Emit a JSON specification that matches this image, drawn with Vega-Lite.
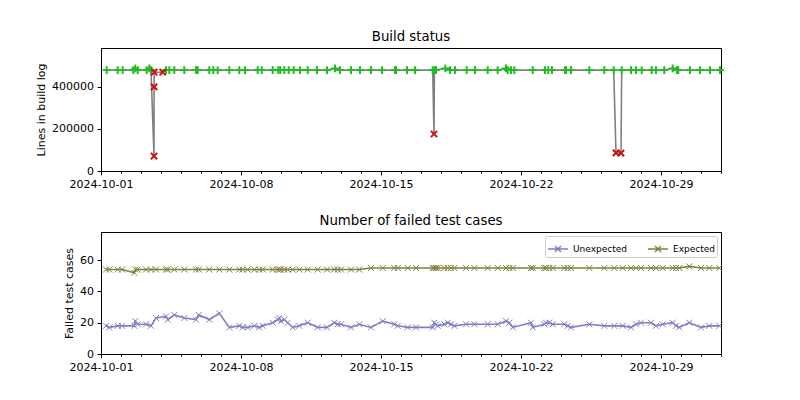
{
  "$schema": "https://vega.github.io/schema/vega-lite/v6.json",
  "background": "white",
  "padding": {"left": 35, "top": 29, "right": 20, "bottom": 5},
  "spacing": 23,
  "resolve": {"legend": {"color": "independent"}, "scale": {"color": "independent"}},
  "config": {
    "font": "DejaVu Sans",
    "view": {"stroke": "black", "strokeWidth": 1},
    "axis": {"grid": false, "domainColor": "black", "tickColor": "black", "labelColor": "black", "titleColor": "black", "labelFontSize": 11, "titleFontSize": 11, "titleFontWeight": "normal", "labelFont": "DejaVu Sans", "titleFont": "DejaVu Sans", "tickSize": 3.9, "labelPadding": 3.5},
    "title": {"fontSize": 13.3, "fontWeight": "normal", "font": "DejaVu Sans", "offset": 5, "color": "black"}
  },
  "datasets": {
    "builds": [
      {"time": "2024-10-01T06:50", "lines": 480000, "status": "ok"},
      {"time": "2024-10-01T20:02", "lines": 480000, "status": "ok"},
      {"time": "2024-10-02T02:02", "lines": 480000, "status": "ok"},
      {"time": "2024-10-02T14:46", "lines": 480000, "status": "ok"},
      {"time": "2024-10-02T17:10", "lines": 488000, "status": "ok"},
      {"time": "2024-10-02T20:02", "lines": 480000, "status": "ok"},
      {"time": "2024-10-03T06:50", "lines": 480000, "status": "ok"},
      {"time": "2024-10-03T09:58", "lines": 488000, "status": "ok"},
      {"time": "2024-10-03T12:00", "lines": 480000, "status": "ok"},
      {"time": "2024-10-03T15:36", "lines": 71000, "status": "failed"},
      {"time": "2024-10-03T15:43", "lines": 400000, "status": "failed"},
      {"time": "2024-10-03T15:50", "lines": 470000, "status": "failed"},
      {"time": "2024-10-04T02:02", "lines": 470000, "status": "failed"},
      {"time": "2024-10-04T06:00", "lines": 480000, "status": "ok"},
      {"time": "2024-10-04T09:58", "lines": 480000, "status": "ok"},
      {"time": "2024-10-04T15:58", "lines": 480000, "status": "ok"},
      {"time": "2024-10-05T03:58", "lines": 480000, "status": "ok"},
      {"time": "2024-10-05T18:00", "lines": 480000, "status": "ok"},
      {"time": "2024-10-05T20:02", "lines": 480000, "status": "ok"},
      {"time": "2024-10-06T09:58", "lines": 480000, "status": "ok"},
      {"time": "2024-10-06T14:46", "lines": 480000, "status": "ok"},
      {"time": "2024-10-06T20:02", "lines": 480000, "status": "ok"},
      {"time": "2024-10-07T09:58", "lines": 480000, "status": "ok"},
      {"time": "2024-10-07T21:58", "lines": 480000, "status": "ok"},
      {"time": "2024-10-08T04:48", "lines": 480000, "status": "ok"},
      {"time": "2024-10-08T20:02", "lines": 480000, "status": "ok"},
      {"time": "2024-10-09T00:50", "lines": 480000, "status": "ok"},
      {"time": "2024-10-09T14:02", "lines": 480000, "status": "ok"},
      {"time": "2024-10-09T20:46", "lines": 480000, "status": "ok"},
      {"time": "2024-10-09T23:10", "lines": 480000, "status": "ok"},
      {"time": "2024-10-10T03:58", "lines": 480000, "status": "ok"},
      {"time": "2024-10-10T09:14", "lines": 480000, "status": "ok"},
      {"time": "2024-10-10T15:14", "lines": 480000, "status": "ok"},
      {"time": "2024-10-10T22:48", "lines": 480000, "status": "ok"},
      {"time": "2024-10-11T08:02", "lines": 480000, "status": "ok"},
      {"time": "2024-10-11T19:12", "lines": 480000, "status": "ok"},
      {"time": "2024-10-12T07:12", "lines": 480000, "status": "ok"},
      {"time": "2024-10-12T16:48", "lines": 488000, "status": "ok"},
      {"time": "2024-10-12T22:48", "lines": 480000, "status": "ok"},
      {"time": "2024-10-13T12:00", "lines": 480000, "status": "ok"},
      {"time": "2024-10-13T22:48", "lines": 480000, "status": "ok"},
      {"time": "2024-10-14T12:00", "lines": 480000, "status": "ok"},
      {"time": "2024-10-15T01:12", "lines": 480000, "status": "ok"},
      {"time": "2024-10-15T16:48", "lines": 480000, "status": "ok"},
      {"time": "2024-10-15T18:00", "lines": 480000, "status": "ok"},
      {"time": "2024-10-16T07:12", "lines": 480000, "status": "ok"},
      {"time": "2024-10-16T16:48", "lines": 480000, "status": "ok"},
      {"time": "2024-10-17T14:02", "lines": 480000, "status": "ok"},
      {"time": "2024-10-17T15:36", "lines": 176000, "status": "failed"},
      {"time": "2024-10-17T16:05", "lines": 480000, "status": "ok"},
      {"time": "2024-10-17T18:00", "lines": 480000, "status": "ok"},
      {"time": "2024-10-18T05:10", "lines": 488000, "status": "ok"},
      {"time": "2024-10-18T10:48", "lines": 480000, "status": "ok"},
      {"time": "2024-10-18T16:48", "lines": 480000, "status": "ok"},
      {"time": "2024-10-19T06:50", "lines": 480000, "status": "ok"},
      {"time": "2024-10-19T16:48", "lines": 480000, "status": "ok"},
      {"time": "2024-10-20T08:02", "lines": 480000, "status": "ok"},
      {"time": "2024-10-20T20:02", "lines": 480000, "status": "ok"},
      {"time": "2024-10-21T06:00", "lines": 488000, "status": "ok"},
      {"time": "2024-10-21T08:02", "lines": 480000, "status": "ok"},
      {"time": "2024-10-21T12:00", "lines": 480000, "status": "ok"},
      {"time": "2024-10-21T15:58", "lines": 480000, "status": "ok"},
      {"time": "2024-10-22T14:02", "lines": 480000, "status": "ok"},
      {"time": "2024-10-23T04:48", "lines": 480000, "status": "ok"},
      {"time": "2024-10-23T08:46", "lines": 480000, "status": "ok"},
      {"time": "2024-10-23T13:12", "lines": 480000, "status": "ok"},
      {"time": "2024-10-24T04:48", "lines": 480000, "status": "ok"},
      {"time": "2024-10-24T06:00", "lines": 480000, "status": "ok"},
      {"time": "2024-10-24T12:00", "lines": 480000, "status": "ok"},
      {"time": "2024-10-25T09:58", "lines": 480000, "status": "ok"},
      {"time": "2024-10-26T03:58", "lines": 480000, "status": "ok"},
      {"time": "2024-10-26T15:14", "lines": 480000, "status": "ok"},
      {"time": "2024-10-26T18:00", "lines": 86000, "status": "failed"},
      {"time": "2024-10-27T00:00", "lines": 85000, "status": "failed"},
      {"time": "2024-10-27T00:50", "lines": 480000, "status": "ok"},
      {"time": "2024-10-27T12:00", "lines": 480000, "status": "ok"},
      {"time": "2024-10-27T18:00", "lines": 480000, "status": "ok"},
      {"time": "2024-10-28T00:50", "lines": 480000, "status": "ok"},
      {"time": "2024-10-28T12:50", "lines": 480000, "status": "ok"},
      {"time": "2024-10-28T18:00", "lines": 480000, "status": "ok"},
      {"time": "2024-10-29T03:58", "lines": 480000, "status": "ok"},
      {"time": "2024-10-29T14:02", "lines": 488000, "status": "ok"},
      {"time": "2024-10-29T19:12", "lines": 480000, "status": "ok"},
      {"time": "2024-10-29T20:46", "lines": 480000, "status": "ok"},
      {"time": "2024-10-30T10:48", "lines": 480000, "status": "ok"},
      {"time": "2024-10-30T22:48", "lines": 480000, "status": "ok"},
      {"time": "2024-10-31T10:48", "lines": 480000, "status": "ok"},
      {"time": "2024-10-31T22:48", "lines": 480000, "status": "ok"}
    ],
    "tests": [
      {"time": "2024-10-01T06:00", "Unexpected": 18, "Expected": 54},
      {"time": "2024-10-01T09:58", "Unexpected": 17, "Expected": 54},
      {"time": "2024-10-01T20:02", "Unexpected": 18, "Expected": 54},
      {"time": "2024-10-02T01:12", "Unexpected": 18, "Expected": 54},
      {"time": "2024-10-02T15:58", "Unexpected": 18, "Expected": 52},
      {"time": "2024-10-02T17:10", "Unexpected": 21, "Expected": 54},
      {"time": "2024-10-02T20:02", "Unexpected": 19, "Expected": 54},
      {"time": "2024-10-03T06:00", "Unexpected": 19, "Expected": 54},
      {"time": "2024-10-03T12:00", "Unexpected": 18, "Expected": 54},
      {"time": "2024-10-03T18:00", "Unexpected": 23, "Expected": 54},
      {"time": "2024-10-04T06:00", "Unexpected": 24, "Expected": 54},
      {"time": "2024-10-04T08:02", "Unexpected": 22, "Expected": 54},
      {"time": "2024-10-04T15:58", "Unexpected": 25, "Expected": 54},
      {"time": "2024-10-05T03:58", "Unexpected": 23, "Expected": 54},
      {"time": "2024-10-05T18:00", "Unexpected": 22, "Expected": 54},
      {"time": "2024-10-05T21:14", "Unexpected": 25, "Expected": 54},
      {"time": "2024-10-06T09:58", "Unexpected": 22, "Expected": 54},
      {"time": "2024-10-06T21:58", "Unexpected": 26, "Expected": 54},
      {"time": "2024-10-07T09:58", "Unexpected": 17, "Expected": 54},
      {"time": "2024-10-07T21:58", "Unexpected": 18, "Expected": 54},
      {"time": "2024-10-08T02:02", "Unexpected": 17, "Expected": 54},
      {"time": "2024-10-08T08:02", "Unexpected": 17, "Expected": 54},
      {"time": "2024-10-08T15:58", "Unexpected": 18, "Expected": 54},
      {"time": "2024-10-08T21:58", "Unexpected": 17, "Expected": 54},
      {"time": "2024-10-09T02:02", "Unexpected": 18, "Expected": 54},
      {"time": "2024-10-09T14:02", "Unexpected": 20, "Expected": 54},
      {"time": "2024-10-09T20:02", "Unexpected": 22, "Expected": 54},
      {"time": "2024-10-09T21:58", "Unexpected": 23, "Expected": 54},
      {"time": "2024-10-10T00:00", "Unexpected": 21, "Expected": 54},
      {"time": "2024-10-10T03:58", "Unexpected": 22, "Expected": 54},
      {"time": "2024-10-10T08:02", "Unexpected": 20, "Expected": 54},
      {"time": "2024-10-10T14:02", "Unexpected": 17, "Expected": 54},
      {"time": "2024-10-10T21:58", "Unexpected": 18, "Expected": 54},
      {"time": "2024-10-11T08:02", "Unexpected": 20, "Expected": 54},
      {"time": "2024-10-11T20:02", "Unexpected": 17, "Expected": 54},
      {"time": "2024-10-12T07:12", "Unexpected": 17, "Expected": 54},
      {"time": "2024-10-12T15:58", "Unexpected": 20, "Expected": 54},
      {"time": "2024-10-12T20:02", "Unexpected": 19, "Expected": 54},
      {"time": "2024-10-13T00:00", "Unexpected": 19, "Expected": 54},
      {"time": "2024-10-13T12:00", "Unexpected": 17, "Expected": 54},
      {"time": "2024-10-13T21:58", "Unexpected": 19, "Expected": 54},
      {"time": "2024-10-14T12:00", "Unexpected": 17, "Expected": 55},
      {"time": "2024-10-15T02:02", "Unexpected": 21, "Expected": 55},
      {"time": "2024-10-15T15:58", "Unexpected": 19, "Expected": 55},
      {"time": "2024-10-15T20:02", "Unexpected": 18, "Expected": 55},
      {"time": "2024-10-16T08:02", "Unexpected": 17, "Expected": 55},
      {"time": "2024-10-16T18:00", "Unexpected": 17, "Expected": 55},
      {"time": "2024-10-17T14:02", "Unexpected": 17, "Expected": 55},
      {"time": "2024-10-17T15:58", "Unexpected": 20, "Expected": 55},
      {"time": "2024-10-17T18:00", "Unexpected": 19, "Expected": 55},
      {"time": "2024-10-17T20:02", "Unexpected": 18, "Expected": 55},
      {"time": "2024-10-18T03:58", "Unexpected": 19, "Expected": 55},
      {"time": "2024-10-18T08:02", "Unexpected": 20, "Expected": 55},
      {"time": "2024-10-18T12:00", "Unexpected": 19, "Expected": 55},
      {"time": "2024-10-18T15:58", "Unexpected": 18, "Expected": 55},
      {"time": "2024-10-19T06:00", "Unexpected": 19, "Expected": 55},
      {"time": "2024-10-19T15:58", "Unexpected": 19, "Expected": 55},
      {"time": "2024-10-20T08:02", "Unexpected": 19, "Expected": 55},
      {"time": "2024-10-20T20:02", "Unexpected": 19, "Expected": 55},
      {"time": "2024-10-21T06:00", "Unexpected": 21, "Expected": 55},
      {"time": "2024-10-21T09:58", "Unexpected": 20, "Expected": 55},
      {"time": "2024-10-21T14:02", "Unexpected": 17, "Expected": 55},
      {"time": "2024-10-22T12:00", "Unexpected": 20, "Expected": 55},
      {"time": "2024-10-22T14:02", "Unexpected": 17, "Expected": 55},
      {"time": "2024-10-23T03:58", "Unexpected": 19, "Expected": 55},
      {"time": "2024-10-23T06:00", "Unexpected": 20, "Expected": 55},
      {"time": "2024-10-23T09:58", "Unexpected": 20, "Expected": 55},
      {"time": "2024-10-23T14:02", "Unexpected": 19, "Expected": 55},
      {"time": "2024-10-24T03:58", "Unexpected": 19, "Expected": 55},
      {"time": "2024-10-24T08:02", "Unexpected": 18, "Expected": 55},
      {"time": "2024-10-24T12:00", "Unexpected": 17, "Expected": 55},
      {"time": "2024-10-25T09:58", "Unexpected": 19, "Expected": 55},
      {"time": "2024-10-26T03:58", "Unexpected": 18, "Expected": 55},
      {"time": "2024-10-26T15:58", "Unexpected": 18, "Expected": 55},
      {"time": "2024-10-27T02:02", "Unexpected": 18, "Expected": 55},
      {"time": "2024-10-27T12:00", "Unexpected": 17, "Expected": 55},
      {"time": "2024-10-27T18:00", "Unexpected": 19, "Expected": 55},
      {"time": "2024-10-28T00:00", "Unexpected": 20, "Expected": 55},
      {"time": "2024-10-28T12:00", "Unexpected": 20, "Expected": 55},
      {"time": "2024-10-28T18:00", "Unexpected": 18, "Expected": 55},
      {"time": "2024-10-29T02:02", "Unexpected": 19, "Expected": 55},
      {"time": "2024-10-29T14:02", "Unexpected": 20, "Expected": 55},
      {"time": "2024-10-29T18:00", "Unexpected": 18, "Expected": 55},
      {"time": "2024-10-29T21:58", "Unexpected": 17, "Expected": 55},
      {"time": "2024-10-30T09:58", "Unexpected": 20, "Expected": 56},
      {"time": "2024-10-31T00:00", "Unexpected": 17, "Expected": 55},
      {"time": "2024-10-31T09:58", "Unexpected": 18, "Expected": 55},
      {"time": "2024-10-31T21:58", "Unexpected": 18, "Expected": 55}
    ]
  },
  "vconcat": [
    {
      "title": "Build status",
      "width": 620,
      "height": 123,
      "data": {"name": "builds"},
      "encoding": {
        "x": {
          "field": "time", "type": "temporal", "title": null,
          "scale": {"domain": [{"year": 2024, "month": 10, "date": 1}, {"year": 2024, "month": 11, "date": 1}], "nice": false},
          "axis": {
            "tickCount": {"interval": "day", "step": 1},
            "labelExpr": "month(datum.value) === 9 && (date(datum.value) - 1) % 7 === 0 ? timeFormat(datum.value, '%Y-%m-%d') : ''",
            "tickSize": {"condition": {"test": "month(datum.value) === 9 && (date(datum.value) - 1) % 7 === 0", "value": 3.9}, "value": 2.2},
            "labelOverlap": false, "labelFlush": false
          }
        },
        "y": {
          "field": "lines", "type": "quantitative", "title": "Lines in build log",
          "scale": {"domain": [0, 585000], "nice": false, "zero": true},
          "axis": {"values": [0, 200000, 400000], "format": "d", "titlePadding": 5}
        }
      },
      "layer": [
        {"mark": {"type": "line", "color": "#808080", "strokeWidth": 1.6}},
        {
          "transform": [{"filter": "datum.status === 'ok'"}],
          "mark": {"type": "point", "shape": "M-1,0H1M0,-1V1", "filled": false, "color": "#22bb22", "size": 60, "strokeWidth": 2, "opacity": 1}
        },
        {
          "transform": [{"filter": "datum.status === 'failed'"}],
          "mark": {"type": "point", "shape": "M-1,-1L1,1M-1,1L1,-1", "filled": false, "color": "#cc1111", "size": 40, "strokeWidth": 2, "opacity": 1}
        }
      ]
    },
    {
      "title": "Number of failed test cases",
      "width": 620,
      "height": 122,
      "data": {"name": "tests"},
      "transform": [{"fold": ["Unexpected", "Expected"], "as": ["key", "count"]}],
      "encoding": {
        "x": {
          "field": "time", "type": "temporal", "title": null,
          "scale": {"domain": [{"year": 2024, "month": 10, "date": 1}, {"year": 2024, "month": 11, "date": 1}], "nice": false},
          "axis": {
            "tickCount": {"interval": "day", "step": 1},
            "labelExpr": "month(datum.value) === 9 && (date(datum.value) - 1) % 7 === 0 ? timeFormat(datum.value, '%Y-%m-%d') : ''",
            "tickSize": {"condition": {"test": "month(datum.value) === 9 && (date(datum.value) - 1) % 7 === 0", "value": 3.9}, "value": 2.2},
            "labelOverlap": false, "labelFlush": false
          }
        },
        "y": {
          "field": "count", "type": "quantitative", "title": "Failed test cases",
          "scale": {"domain": [0, 78], "nice": false},
          "axis": {"values": [0, 20, 40, 60], "titlePadding": 5}
        },
        "color": {
          "field": "key", "type": "nominal",
          "scale": {"domain": ["Unexpected", "Expected"], "range": ["#7f7fc4", "#80803f"]},
          "legend": {
            "title": null, "orient": "top-right", "direction": "horizontal", "columns": 2,
            "symbolType": "M-1,0H1M-0.3,-0.3L0.3,0.3M-0.3,0.3L0.3,-0.3",
            "symbolSize": 400, "symbolStrokeWidth": 1.5, "symbolFillColor": "transparent",
            "labelFontSize": 9, "labelFont": "DejaVu Sans", "labelColor": "black",
            "strokeColor": "#cccccc", "fillColor": "white", "cornerRadius": 2, "padding": 2,
            "offset": 4, "columnPadding": 18
          }
        }
      },
      "layer": [
        {"mark": {"type": "line", "strokeWidth": 1.6}},
        {"mark": {"type": "point", "shape": "M-1,-1L1,1M-1,1L1,-1", "filled": false, "size": 36, "strokeWidth": 1, "opacity": 1}}
      ]
    }
  ]
}
